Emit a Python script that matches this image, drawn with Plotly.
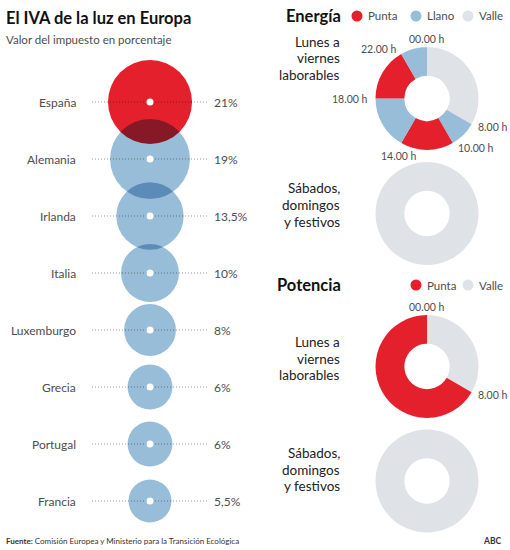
import math
import plotly.graph_objects as go

W, H = 510, 550

# ---------------- data ----------------
countries = ["España", "Alemania", "Irlanda", "Italia", "Luxemburgo", "Grecia", "Portugal", "Francia"]
iva = [21, 19, 13.5, 10, 8, 6, 6, 5.5]
iva_labels = ["21%", "19%", "13,5%", "10%", "8%", "6%", "6%", "5,5%"]

energy_periods = ["00-08 h", "08-10 h", "10-14 h", "14-18 h", "18-22 h", "22-24 h"]
energy_hours = [8, 2, 4, 4, 4, 2]
energy_tariff = ["Valle", "Llano", "Punta", "Llano", "Punta", "Llano"]
energy_tick_labels = ["00.00 h", "8.00 h", "10.00 h", "14.00 h", "18.00 h", "22.00 h"]

power_periods = ["00-08 h", "08-24 h"]
power_hours = [8, 16]
power_tariff = ["Valle", "Punta"]
power_tick_labels = ["00.00 h", "8.00 h"]

weekend_periods = ["00-24 h"]
weekend_hours = [24]
weekend_tariff = ["Valle"]

energy_legend = ["Punta", "Llano", "Valle"]
power_legend = ["Punta", "Valle"]

# ---------------- styles ----------------
RED = "#e3202b"
BLUE = "#98bdd8"
GRAY = "#dfe3e8"
tariff_color = {"Punta": RED, "Llano": BLUE, "Valle": GRAY}
FONT = "Lato"
LBL = "#4d4d4d"


def fx(x):
    return x / W


def fy(y):
    return 1 - y / H


fig = go.Figure()

# ---------------- bubble chart ----------------
rows = list(range(len(countries)))
row_px = 57.0
first_row_px = 102.0
y_top = -first_row_px / row_px
y_bot = (H - first_row_px) / row_px

# dotted guide lines
lx, ly = [], []
for i in rows:
    lx += [-58, 58, None]
    ly += [i, i, None]
fig.add_trace(go.Scatter(x=lx, y=ly, mode="lines",
                         line=dict(color="#9a9a9a", width=1, dash="1px,2px"),
                         hoverinfo="skip", showlegend=False))

bubble_colors = [RED] + [BLUE] * (len(countries) - 1)
fig.add_trace(go.Scatter(
    x=[0] * len(countries), y=rows, mode="markers", uid="bubbles",
    marker=dict(size=iva, sizemode="area", sizeref=1 / 168.2,
                color=bubble_colors, line=dict(width=0), opacity=1),
    hovertext=[f"{c}: {v}" for c, v in zip(countries, iva_labels)],
    hoverinfo="text", showlegend=False))

fig.add_trace(go.Scatter(
    x=[0] * len(countries), y=rows, mode="markers",
    marker=dict(size=7, color="white", line=dict(width=0)),
    hoverinfo="skip", showlegend=False))

annotations = []
for i, (c, v) in enumerate(zip(countries, iva_labels)):
    annotations.append(dict(x=-72, y=i, xref="x", yref="y", text=c, showarrow=False,
                            xanchor="right", yanchor="middle",
                            font=dict(family=FONT, size=12, color=LBL)))
    annotations.append(dict(x=62, y=i, xref="x", yref="y", text=v, showarrow=False,
                            xanchor="left", yanchor="middle",
                            font=dict(family=FONT, size=12, color=LBL)))

# titles
annotations.append(dict(x=fx(4), y=fy(18), xref="paper", yref="paper",
                        text="<b>El IVA de la luz en Europa</b>", showarrow=False,
                        xanchor="left", yanchor="middle",
                        font=dict(family=FONT, size=16.5, color="#111111")))
annotations.append(dict(x=fx(4), y=fy(39), xref="paper", yref="paper",
                        text="Valor del impuesto en porcentaje", showarrow=False,
                        xanchor="left", yanchor="middle",
                        font=dict(family=FONT, size=11.5, color=LBL)))

# ---------------- donuts ----------------
R = 51.5
CX = 427
donuts = [
    (energy_periods, energy_hours, energy_tariff, energy_tick_labels, 98.5,
     ["Lunes a", "viernes", "laborables"], [42, 58.5, 75]),
    (weekend_periods, weekend_hours, weekend_tariff, [], 213.5,
     ["Sábados,", "domingos", "y festivos"], [188, 205, 222]),
    (power_periods, power_hours, power_tariff, power_tick_labels, 366.5,
     ["Lunes a", "viernes", "laborables"], [342, 358.5, 375]),
    (weekend_periods, weekend_hours, weekend_tariff, [], 481,
     ["Sábados,", "domingos", "y festivos"], [453, 469.5, 486]),
]

label_style = {
    "00.00 h": ("center", "bottom", 52),
    "8.00 h": ("left", "middle", 57),
    "10.00 h": ("left", "middle", 57),
    "14.00 h": ("center", "top", 57),
    "18.00 h": ("right", "middle", 57),
    "22.00 h": ("right", "middle", 57),
}

for periods, hours, tariff, ticks, cy, lines, line_y in donuts:
    fig.add_trace(go.Pie(
        labels=periods, values=hours, sort=False, direction="clockwise", rotation=0,
        hole=0.44, textinfo="none", hoverinfo="label+value",
        marker=dict(colors=[tariff_color[t] for t in tariff], line=dict(width=0)),
        domain=dict(x=[fx(CX - R), fx(CX + R)], y=[fy(cy + R), fy(cy - R)]),
        showlegend=False))
    cum = 0
    for h, lab in zip(hours, ticks):
        ang = math.radians(cum / sum(hours) * 360)
        xa, ya, rr = label_style[lab]
        ax_ = CX + rr * math.sin(ang)
        ay_ = cy - rr * math.cos(ang)
        annotations.append(dict(x=fx(ax_), y=fy(ay_), xref="paper", yref="paper",
                                text=lab, showarrow=False, xanchor=xa, yanchor=ya,
                                font=dict(family=FONT, size=10.5, color=LBL)))
        cum += h
    for t, yy in zip(lines, line_y):
        annotations.append(dict(x=fx(342), y=fy(yy), xref="paper", yref="paper",
                                text=t, showarrow=False, xanchor="right", yanchor="middle",
                                font=dict(family=FONT, size=13.5, color="#222222")))

# section titles and legends
shapes = []
for title, ty, items, x_items in [
    ("Energía", 16, energy_legend, [357, 416, 468]),
    ("Potencia", 285, power_legend, [416, 468]),
]:
    annotations.append(dict(x=fx(343), y=fy(ty), xref="paper", yref="paper",
                            text=f"<b>{title}</b>", showarrow=False,
                            xanchor="right", yanchor="middle",
                            font=dict(family=FONT, size=16.5, color="#111111")))
    for name, lx0 in zip(items, x_items):
        shapes.append(dict(type="circle", xref="paper", yref="paper",
                           x0=fx(lx0 - 5.5), x1=fx(lx0 + 5.5),
                           y0=fy(ty + 5.5), y1=fy(ty - 5.5),
                           fillcolor=tariff_color[name], line=dict(width=0)))
        annotations.append(dict(x=fx(lx0 + 9), y=fy(ty), xref="paper", yref="paper",
                                text=name, showarrow=False, xanchor="left", yanchor="middle",
                                font=dict(family=FONT, size=11.5, color=LBL)))

# footer
annotations.append(dict(x=fx(4), y=fy(541), xref="paper", yref="paper",
                        text="<b>Fuente:</b> Comisión Europea y Ministerio para la Transición Ecológica",
                        showarrow=False, xanchor="left", yanchor="middle",
                        font=dict(family=FONT, size=8, color="#333333")))
annotations.append(dict(x=fx(504), y=fy(541), xref="paper", yref="paper",
                        text="<b>ABC</b>", showarrow=False, xanchor="right", yanchor="middle",
                        font=dict(family=FONT, size=8.5, color="#333333")))

fig.update_layout(
    width=W, height=H, margin=dict(l=0, r=0, t=0, b=0),
    paper_bgcolor="white", plot_bgcolor="white", showlegend=False,
    xaxis=dict(domain=[0, 0.5], range=[-150, 105], visible=False, fixedrange=True),
    yaxis=dict(domain=[0, 1], range=[y_bot, y_top], visible=False, fixedrange=True),
    annotations=annotations, shapes=shapes,
    font=dict(family=FONT),
)

post_js = (
    "document.body.style.margin='0';"
    "document.body.style.overflow='hidden';"
    "document.querySelectorAll('.tracebubbles .point').forEach(function(p){"
    "p.style.mixBlendMode='multiply';});"
)
fig.write_html("out.html", post_script=post_js, config={"displayModeBar": False})
